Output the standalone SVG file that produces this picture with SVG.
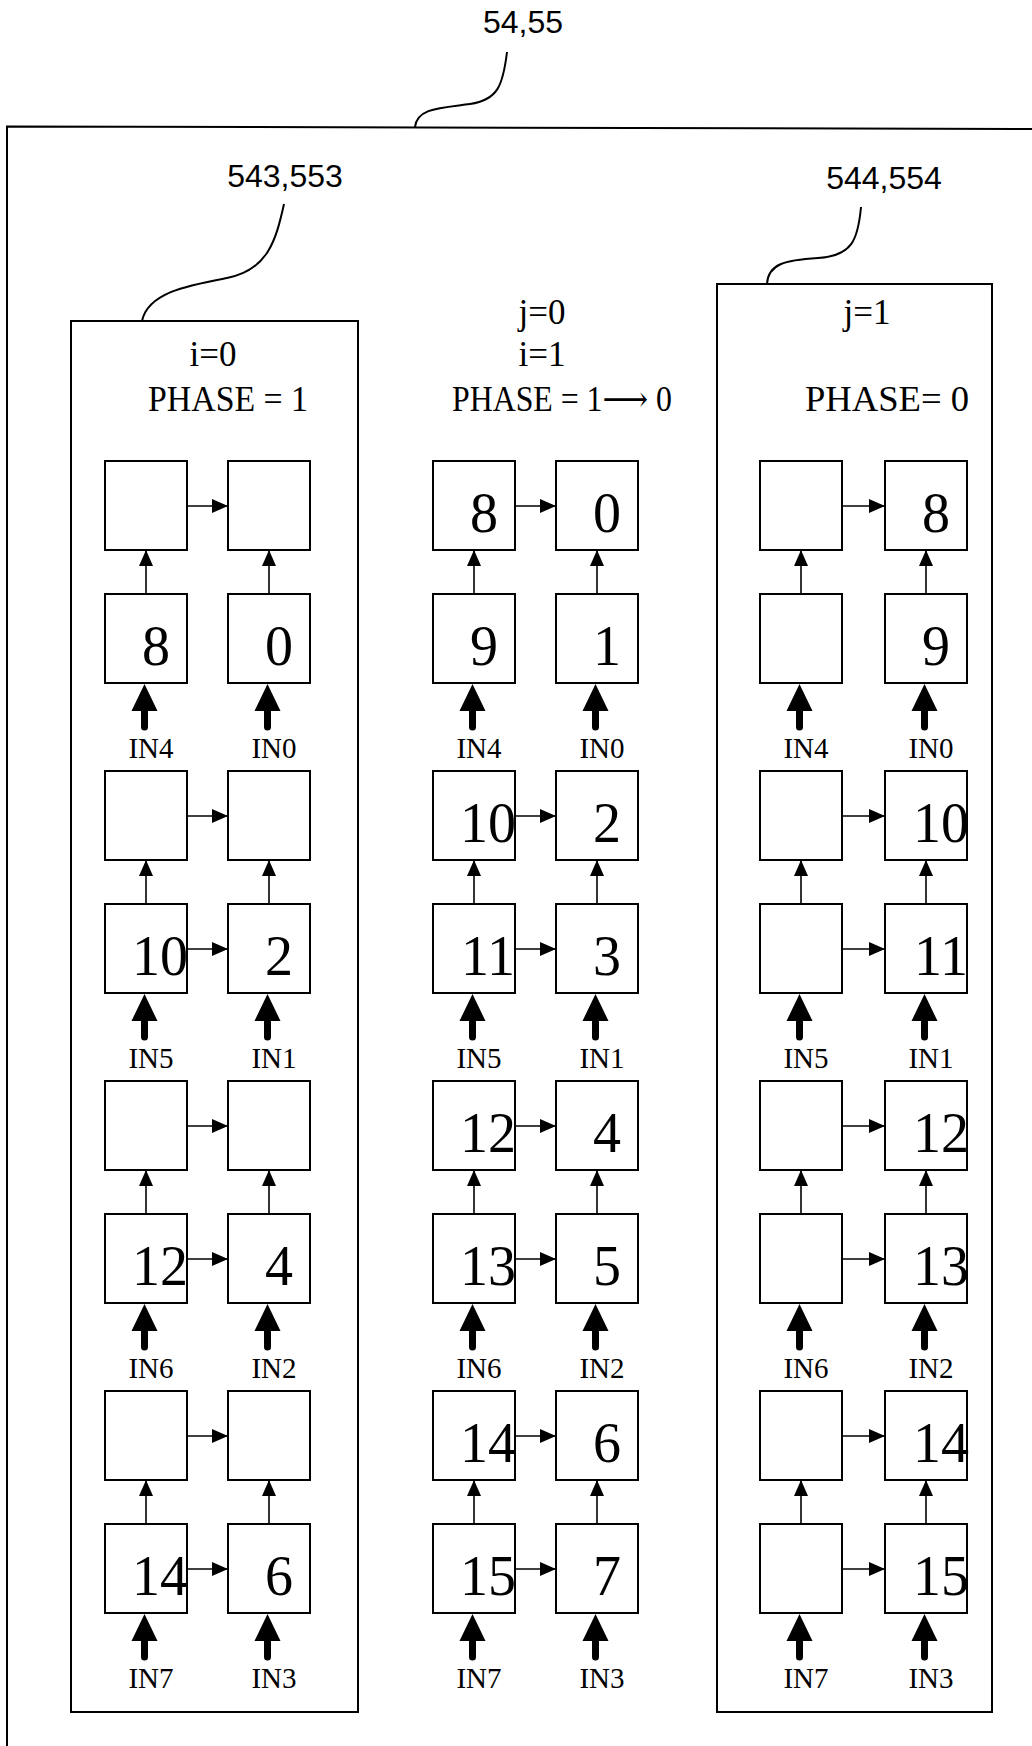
<svg xmlns="http://www.w3.org/2000/svg" xmlns:xlink="http://www.w3.org/1999/xlink" width="1032" height="1746" viewBox="0 0 1032 1746">
<style>
.bg{fill:#fff}
.ln{fill:none;stroke:#000;stroke-width:2}
.box{fill:#fff;stroke:#000;stroke-width:2}
.col{fill:none;stroke:#000;stroke-width:2}
.arr{fill:none;stroke:#000;stroke-width:1.6;marker-end:url(#ah)}
.thick{fill:#000;stroke:none}
.ref{font-family:"Liberation Sans",Arial,sans-serif;font-size:32px;fill:#000;text-anchor:middle}
.hdr{font-family:"Liberation Serif","Times New Roman","DejaVu Serif","DejaVu Sans",serif;font-size:35px;fill:#000}
.hc{text-anchor:middle}
.num{font-family:"Liberation Serif","Times New Roman",serif;font-size:56px;fill:#000;text-anchor:middle}
.in{font-family:"Liberation Serif","Times New Roman",serif;font-size:29px;fill:#000;text-anchor:middle}
</style>
<defs>
<marker id="ah" viewBox="0 0 16 14" markerWidth="16" markerHeight="14" refX="16" refY="7" orient="auto" markerUnits="userSpaceOnUse">
<path d="M0,0 L16,7 L0,14 Z" fill="#000"/>
</marker>
<path id="thk" d="M0,0 L13,27 L3.5,27 L3.5,43 A3.5,3.5 0 0 1 -3.5,43 L-3.5,27 L-13,27 Z"/>
</defs>
<rect class="bg" x="0" y="0" width="1032" height="1746"/>

<g id="frame">
<path class="ln" d="M1032,129 L7,126.5 L7,1746"/>
<path class="ln" d="M507,52 C503,85 498,100 470,104 C440,108 417,108 415,127"/>
<text class="ref" x="523" y="33">54,55</text>
<path class="ln" d="M284,204 C276,240 268,270 227,278 C190,285 148,292 142,321"/>
<text class="ref" x="285" y="187">543,553</text>
<path class="ln" d="M861,207 C858,240 852,256 818,258 C785,260 768,264 767,284"/>
<text class="ref" x="884" y="189">544,554</text>
</g>

<g id="col-left">
<rect class="col" x="71" y="321" width="287" height="1391"/>
<text class="hdr hc" x="213" y="366">i=0</text>
<text class="hdr" x="148" y="411" textLength="160" lengthAdjust="spacingAndGlyphs">PHASE = 1</text>
<g id="L-A1"><rect class="box" x="105" y="461" width="82" height="89"/></g>
<g id="L-A2"><rect class="box" x="228" y="461" width="82" height="89"/></g>
<g id="L-B1"><rect class="box" x="105" y="594" width="82" height="89"/><text class="num" x="156" y="665">8</text></g>
<g id="L-B2"><rect class="box" x="228" y="594" width="82" height="89"/><text class="num" x="279" y="665">0</text></g>
<g id="L-C1"><rect class="box" x="105" y="771" width="82" height="89"/></g>
<g id="L-C2"><rect class="box" x="228" y="771" width="82" height="89"/></g>
<g id="L-D1"><rect class="box" x="105" y="904" width="82" height="89"/><text class="num" x="160" y="975">10</text></g>
<g id="L-D2"><rect class="box" x="228" y="904" width="82" height="89"/><text class="num" x="279" y="975">2</text></g>
<g id="L-E1"><rect class="box" x="105" y="1081" width="82" height="89"/></g>
<g id="L-E2"><rect class="box" x="228" y="1081" width="82" height="89"/></g>
<g id="L-F1"><rect class="box" x="105" y="1214" width="82" height="89"/><text class="num" x="160" y="1285">12</text></g>
<g id="L-F2"><rect class="box" x="228" y="1214" width="82" height="89"/><text class="num" x="279" y="1285">4</text></g>
<g id="L-G1"><rect class="box" x="105" y="1391" width="82" height="89"/></g>
<g id="L-G2"><rect class="box" x="228" y="1391" width="82" height="89"/></g>
<g id="L-H1"><rect class="box" x="105" y="1524" width="82" height="89"/><text class="num" x="160" y="1595">14</text></g>
<g id="L-H2"><rect class="box" x="228" y="1524" width="82" height="89"/><text class="num" x="279" y="1595">6</text></g>
</g>

<g id="col-mid">
<text class="hdr hc" x="542" y="324">j=0</text>
<text class="hdr hc" x="542" y="366">i=1</text>
<text class="hdr" x="452" y="411" textLength="220" lengthAdjust="spacingAndGlyphs">PHASE = 1⟶ 0</text>
<g id="M-A1"><rect class="box" x="433" y="461" width="82" height="89"/><text class="num" x="484" y="532">8</text></g>
<g id="M-A2"><rect class="box" x="556" y="461" width="82" height="89"/><text class="num" x="607" y="532">0</text></g>
<g id="M-B1"><rect class="box" x="433" y="594" width="82" height="89"/><text class="num" x="484" y="665">9</text></g>
<g id="M-B2"><rect class="box" x="556" y="594" width="82" height="89"/><text class="num" x="607" y="665">1</text></g>
<g id="M-C1"><rect class="box" x="433" y="771" width="82" height="89"/><text class="num" x="488" y="842">10</text></g>
<g id="M-C2"><rect class="box" x="556" y="771" width="82" height="89"/><text class="num" x="607" y="842">2</text></g>
<g id="M-D1"><rect class="box" x="433" y="904" width="82" height="89"/><text class="num" x="488" y="975">11</text></g>
<g id="M-D2"><rect class="box" x="556" y="904" width="82" height="89"/><text class="num" x="607" y="975">3</text></g>
<g id="M-E1"><rect class="box" x="433" y="1081" width="82" height="89"/><text class="num" x="488" y="1152">12</text></g>
<g id="M-E2"><rect class="box" x="556" y="1081" width="82" height="89"/><text class="num" x="607" y="1152">4</text></g>
<g id="M-F1"><rect class="box" x="433" y="1214" width="82" height="89"/><text class="num" x="488" y="1285">13</text></g>
<g id="M-F2"><rect class="box" x="556" y="1214" width="82" height="89"/><text class="num" x="607" y="1285">5</text></g>
<g id="M-G1"><rect class="box" x="433" y="1391" width="82" height="89"/><text class="num" x="488" y="1462">14</text></g>
<g id="M-G2"><rect class="box" x="556" y="1391" width="82" height="89"/><text class="num" x="607" y="1462">6</text></g>
<g id="M-H1"><rect class="box" x="433" y="1524" width="82" height="89"/><text class="num" x="488" y="1595">15</text></g>
<g id="M-H2"><rect class="box" x="556" y="1524" width="82" height="89"/><text class="num" x="607" y="1595">7</text></g>
</g>

<g id="col-right">
<rect class="col" x="717" y="284" width="275" height="1428"/>
<text class="hdr hc" x="867" y="324">j=1</text>
<text class="hdr" x="805" y="411" textLength="164" lengthAdjust="spacingAndGlyphs">PHASE= 0</text>
<g id="R-A1"><rect class="box" x="760" y="461" width="82" height="89"/></g>
<g id="R-A2"><rect class="box" x="885" y="461" width="82" height="89"/><text class="num" x="936" y="532">8</text></g>
<g id="R-B1"><rect class="box" x="760" y="594" width="82" height="89"/></g>
<g id="R-B2"><rect class="box" x="885" y="594" width="82" height="89"/><text class="num" x="936" y="665">9</text></g>
<g id="R-C1"><rect class="box" x="760" y="771" width="82" height="89"/></g>
<g id="R-C2"><rect class="box" x="885" y="771" width="82" height="89"/><text class="num" x="941" y="842">10</text></g>
<g id="R-D1"><rect class="box" x="760" y="904" width="82" height="89"/></g>
<g id="R-D2"><rect class="box" x="885" y="904" width="82" height="89"/><text class="num" x="941" y="975">11</text></g>
<g id="R-E1"><rect class="box" x="760" y="1081" width="82" height="89"/></g>
<g id="R-E2"><rect class="box" x="885" y="1081" width="82" height="89"/><text class="num" x="941" y="1152">12</text></g>
<g id="R-F1"><rect class="box" x="760" y="1214" width="82" height="89"/></g>
<g id="R-F2"><rect class="box" x="885" y="1214" width="82" height="89"/><text class="num" x="941" y="1285">13</text></g>
<g id="R-G1"><rect class="box" x="760" y="1391" width="82" height="89"/></g>
<g id="R-G2"><rect class="box" x="885" y="1391" width="82" height="89"/><text class="num" x="941" y="1462">14</text></g>
<g id="R-H1"><rect class="box" x="760" y="1524" width="82" height="89"/></g>
<g id="R-H2"><rect class="box" x="885" y="1524" width="82" height="89"/><text class="num" x="941" y="1595">15</text></g>
</g>

<g id="connectors">
<path class="arr" d="M146,594 V550"/><path class="arr" d="M269,594 V550"/>
<path class="arr" d="M146,904 V860"/><path class="arr" d="M269,904 V860"/>
<path class="arr" d="M146,1214 V1170"/><path class="arr" d="M269,1214 V1170"/>
<path class="arr" d="M146,1524 V1480"/><path class="arr" d="M269,1524 V1480"/>
<path class="arr" d="M474,594 V550"/><path class="arr" d="M597,594 V550"/>
<path class="arr" d="M474,904 V860"/><path class="arr" d="M597,904 V860"/>
<path class="arr" d="M474,1214 V1170"/><path class="arr" d="M597,1214 V1170"/>
<path class="arr" d="M474,1524 V1480"/><path class="arr" d="M597,1524 V1480"/>
<path class="arr" d="M801,594 V550"/><path class="arr" d="M926,594 V550"/>
<path class="arr" d="M801,904 V860"/><path class="arr" d="M926,904 V860"/>
<path class="arr" d="M801,1214 V1170"/><path class="arr" d="M926,1214 V1170"/>
<path class="arr" d="M801,1524 V1480"/><path class="arr" d="M926,1524 V1480"/>
<path class="arr" d="M187,506 H228"/><path class="arr" d="M187,816 H228"/><path class="arr" d="M187,949 H228"/>
<path class="arr" d="M187,1126 H228"/><path class="arr" d="M187,1259 H228"/><path class="arr" d="M187,1436 H228"/><path class="arr" d="M187,1569 H228"/>
<path class="arr" d="M515,506 H556"/><path class="arr" d="M515,816 H556"/><path class="arr" d="M515,949 H556"/>
<path class="arr" d="M515,1126 H556"/><path class="arr" d="M515,1259 H556"/><path class="arr" d="M515,1436 H556"/><path class="arr" d="M515,1569 H556"/>
<path class="arr" d="M842,506 H885"/><path class="arr" d="M842,816 H885"/><path class="arr" d="M842,949 H885"/>
<path class="arr" d="M842,1126 H885"/><path class="arr" d="M842,1259 H885"/><path class="arr" d="M842,1436 H885"/><path class="arr" d="M842,1569 H885"/>
<use xlink:href="#thk" class="thick" x="144.5" y="684"/><use xlink:href="#thk" class="thick" x="267.5" y="684"/>
<use xlink:href="#thk" class="thick" x="144.5" y="994"/><use xlink:href="#thk" class="thick" x="267.5" y="994"/>
<use xlink:href="#thk" class="thick" x="144.5" y="1304"/><use xlink:href="#thk" class="thick" x="267.5" y="1304"/>
<use xlink:href="#thk" class="thick" x="144.5" y="1614"/><use xlink:href="#thk" class="thick" x="267.5" y="1614"/>
<use xlink:href="#thk" class="thick" x="472.5" y="684"/><use xlink:href="#thk" class="thick" x="595.5" y="684"/>
<use xlink:href="#thk" class="thick" x="472.5" y="994"/><use xlink:href="#thk" class="thick" x="595.5" y="994"/>
<use xlink:href="#thk" class="thick" x="472.5" y="1304"/><use xlink:href="#thk" class="thick" x="595.5" y="1304"/>
<use xlink:href="#thk" class="thick" x="472.5" y="1614"/><use xlink:href="#thk" class="thick" x="595.5" y="1614"/>
<use xlink:href="#thk" class="thick" x="799.5" y="684"/><use xlink:href="#thk" class="thick" x="924.5" y="684"/>
<use xlink:href="#thk" class="thick" x="799.5" y="994"/><use xlink:href="#thk" class="thick" x="924.5" y="994"/>
<use xlink:href="#thk" class="thick" x="799.5" y="1304"/><use xlink:href="#thk" class="thick" x="924.5" y="1304"/>
<use xlink:href="#thk" class="thick" x="799.5" y="1614"/><use xlink:href="#thk" class="thick" x="924.5" y="1614"/>
</g>

<g id="input-labels">
<text class="in" x="151" y="758">IN4</text><text class="in" x="274" y="758">IN0</text>
<text class="in" x="151" y="1068">IN5</text><text class="in" x="274" y="1068">IN1</text>
<text class="in" x="151" y="1378">IN6</text><text class="in" x="274" y="1378">IN2</text>
<text class="in" x="151" y="1688">IN7</text><text class="in" x="274" y="1688">IN3</text>
<text class="in" x="479" y="758">IN4</text><text class="in" x="602" y="758">IN0</text>
<text class="in" x="479" y="1068">IN5</text><text class="in" x="602" y="1068">IN1</text>
<text class="in" x="479" y="1378">IN6</text><text class="in" x="602" y="1378">IN2</text>
<text class="in" x="479" y="1688">IN7</text><text class="in" x="602" y="1688">IN3</text>
<text class="in" x="806" y="758">IN4</text><text class="in" x="931" y="758">IN0</text>
<text class="in" x="806" y="1068">IN5</text><text class="in" x="931" y="1068">IN1</text>
<text class="in" x="806" y="1378">IN6</text><text class="in" x="931" y="1378">IN2</text>
<text class="in" x="806" y="1688">IN7</text><text class="in" x="931" y="1688">IN3</text>
</g>
</svg>
